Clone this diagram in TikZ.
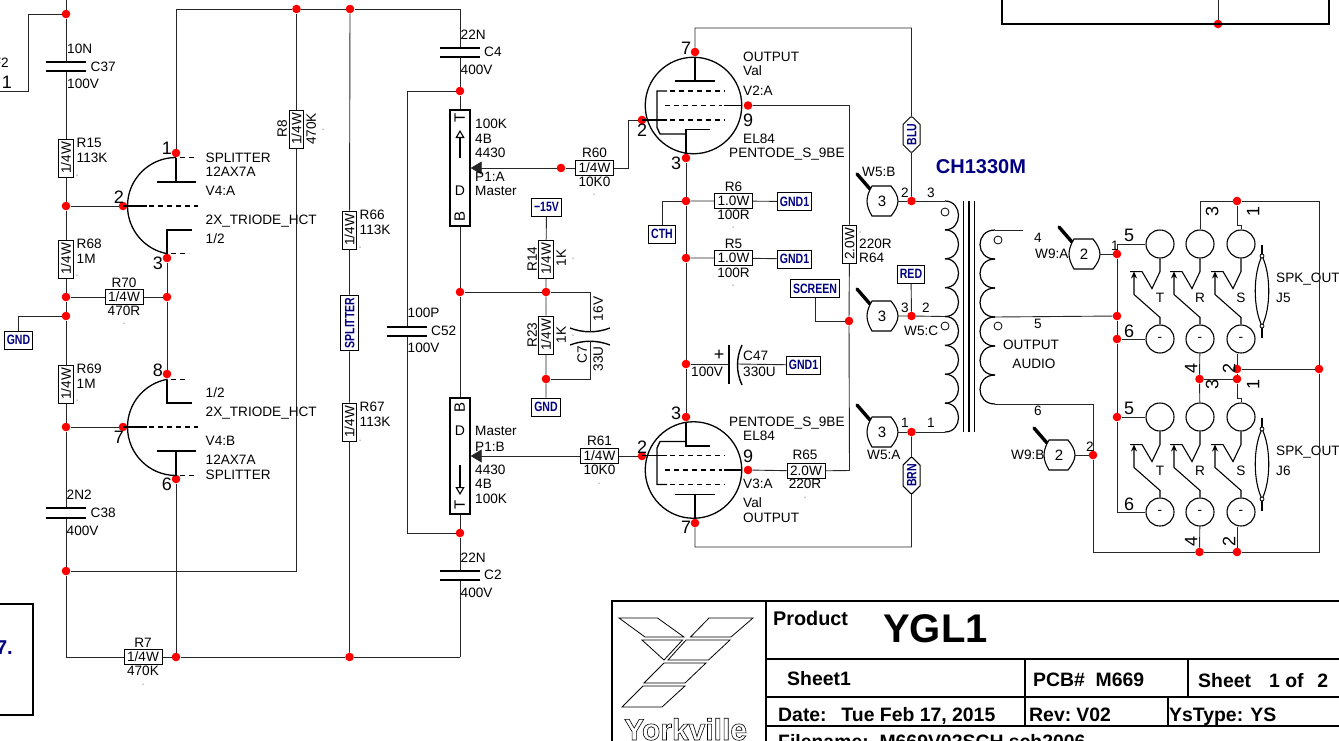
\documentclass[tikz,border=0pt]{standalone}
\usepackage{fontspec}
\setmainfont{Liberation Sans}
\newfontfamily\tagfont{Liberation Sans}[FakeStretch=0.78]
\usetikzlibrary{arrows.meta,shapes.misc}
\definecolor{tagblue}{RGB}{0,0,128}
\tikzset{
  wire/.style={line width=0.9pt,black!85},
  dot/.style={circle,fill=red,inner sep=0,minimum size=8.6pt},
  lbl/.style={font=\fontsize{13.6}{14}\selectfont,inner sep=0,anchor=west,text height=9.7pt,text depth=0pt},
  lblc/.style={lbl,anchor=center},
  lblr/.style={lbl,anchor=center,rotate=90},
  pinnum/.style={font=\fontsize{18}{18}\selectfont,inner sep=0,text height=12.9pt,text depth=0pt},
  pinrot/.style={pinnum,rotate=90},
  res/.style={draw,line width=1pt,fill=white,lbl,anchor=center,minimum width=38pt,minimum height=14.5pt},
  plate/.style={fill=black,inner sep=0,minimum width=40pt,minimum height=1.6pt},
  tagbox/.style={draw,line width=1pt,fill=white,text=tagblue,inner xsep=2.5pt,inner ysep=0,minimum height=18pt,
    font=\fontsize{13.5}{14}\tagfont\bfseries,text height=9.7pt,text depth=0pt},
  tagcham/.style={tagbox,chamfered rectangle,chamfered rectangle xsep=4pt,rotate=90,minimum width=35pt,minimum height=17pt},
  tube/.style={line width=1.3pt},
  tubedash/.style={line width=1.2pt,dash pattern=on 5pt off 4pt},
  jackc/.style={circle,draw,line width=1.1pt,fill=white,minimum size=28pt,inner sep=0,font=\fontsize{13.6}{14}\selectfont},
  plug/.style={rectangle,minimum width=32pt,minimum height=30pt,inner sep=0,font=\fontsize{15}{15}\selectfont},
  titletxt/.style={inner sep=0,anchor=west,font=\fontsize{19.4}{20}\selectfont\bfseries,text height=13.9pt,text depth=0pt},
}
\begin{document}
\begin{tikzpicture}[x=1pt,y=-1pt]
  \useasboundingbox (0,0) rectangle (1339,740);
  \clip (0,0) rectangle (1339,740);

  % junctions
  \foreach \n/\x/\y in {ja/66/14,jb/66/206,jc/66/297,jd/66/316,je/66/427,jf/66/571,
    jg/296.5/9,jh/350/9,v4a1/176/153,v4a2/123/206,v4a3/167/258,jk/167/297,
    v4b8/167/374,v4b7/123/427,v4b6/176/479,jl/176/657,jm/349.5/657,
    j91/460/91,j292/460/292,j533/460/533,jw60/561/168,jy/546/292,jz/546/379,
    v2p7/695/52,v2p9/748/105.5,v2p2/642/120,v2p3/686/158,
    v3p3/686/417,v3p2/642/456,v3p9/748/470,v3p7/695/523,
    j201/686/201,j258/686/258,j364/686/364,j321/849/321,
    jw5b/911.5/201,jw5c/911.5/316,jw5a/911.5/432,
    jw9a/1117/254,j316/1117/316,j339/1117/339,j417/1117/417,jw9b/1093/455,
    js1/1237/201,js5/1319/369,jm1/1199.5/379,jm2/1237/379,jm3/1237/369,
    jb1/1199.5/552,jb2/1237/552,jtr/1218/24}
    \node[dot] (\n) at (\x,\y) {};

  % resistors
  \foreach \n/\x/\y/\t in {r70/124/297/{1/4W},r7/143/657/{1/4W},r60/594.5/168/{1/4W},r61/599.5/456/{1/4W},
    r6/733.5/201/1.0W,r5/733.5/258/1.0W,r65/806/471/2.0W}
    \node[res] (\n) at (\x,\y) {\t};
  \foreach \n/\x/\y/\t in {r15/66/158/{1/4W},r68/66/259/{1/4W},r69/66/384/{1/4W},r8/296.5/129/{1/4W},
    r66/349.5/230/{1/4W},r67/349.5/422/{1/4W},r14/546/259/{1/4W},r23/546/335/{1/4W},r64/849.5/244/2.0W}
    \node[res,rotate=90] (\n) at (\x,\y) {\t};

  % capacitor plates
  \foreach \n/\x/\ya/\yb in {c37/66/62/71,c38/66/508/518,c4/460/48/57,c2/460/571/580,c52/407/327/336}{
    \node[plate] (\n t) at (\x,\ya) {};
    \node[plate] (\n b) at (\x,\yb) {};
  }
  \coordinate (c7t) at (590,332);
  \coordinate (c7b) at (590,341);
  \draw[line width=1.4pt] (570,328) .. controls (583,333) and (597,333) .. (610,328);
  \draw[line width=1.4pt] (570,345) .. controls (583,340) and (597,340) .. (610,345);
  \coordinate (c47a) at (729,364);
  \coordinate (c47b) at (738,364);
  \draw[line width=1.5pt] (729,345) -- (729,384);
  \draw[line width=1.4pt] (742,345) .. controls (736,358) and (736,372) .. (742,385);

  % tags
  \node[tagbox] (gndl) at (18.5,340) {GND};
  \node[tagbox] (gnd2) at (546,407) {GND};
  \node[tagbox] (tag15) at (546.5,207) {−15V};
  \node[tagbox] (cth) at (662,234) {CTH};
  \node[tagbox] (gnd1a) at (794.5,201.5) {GND1};
  \node[tagbox] (gnd1b) at (794.5,259) {GND1};
  \node[tagbox] (gnd1c) at (803.5,365) {GND1};
  \node[tagbox] (screen) at (815,288.5) {SCREEN};
  \node[tagbox] (red) at (911,274) {RED};
  \node[tagbox,rotate=90] (split) at (349.5,323) {SPLITTER};
  \node[tagcham] (blu) at (911.5,134.5) {BLU};
  \node[tagcham] (brn) at (911.5,475.5) {BRN};

  % triodes
  \foreach \y/\s in {206/1,427/-1}{
    \draw[tube] (176,\y-48.5*\s) arc[start angle=90*\s,delta angle=170*\s,radius=48.5pt];
    \draw[tube] (176,\y-48.5*\s) -- (176,\y-24*\s);
    \draw[tube] (157,\y-24*\s) -- (196,\y-24*\s);
    \draw[tubedash] (180,\y-48.5*\s) -- (198,\y-48.5*\s);
    \draw[tube] (123,\y) -- (147,\y);
    \draw[tubedash] (149,\y) -- (198,\y);
    \draw[tube] (167,\y+47.5*\s) -- (167,\y+24*\s) -- (192,\y+24*\s);
    \draw[tubedash] (171,\y+47.5*\s) -- (189,\y+47.5*\s);
  }

  % pentodes
  \foreach \n/\y/\s in {v2/105.5/1,v3/470/-1}{
    \node[circle,draw,line width=1.3pt,minimum size=96.5pt,inner sep=0] (\n) at (693.5,\y) {};
    \draw[tube] (695,\y-48*\s) -- (695,\y-24.5*\s);
    \draw[tube] (675,\y-24.5*\s) -- (715,\y-24.5*\s);
    \draw[tube] (667,\y-14.5*\s) -- (657,\y-14.5*\s) -- (657,\y+22*\s) -- (660,\y+28.5*\s) -- (686,\y+28.5*\s);
    \draw[tubedash] (670,\y-14.5*\s) -- (725,\y-14.5*\s);
    \draw[tubedash] (665,\y) -- (722,\y);
    \draw[tube] (724,\y) -- (742,\y);
    \draw[tube] (642,\y+14.5*\s) -- (667,\y+14.5*\s);
    \draw[tubedash] (670,\y+14.5*\s) -- (725,\y+14.5*\s);
    \draw[tube] (686,\y+48*\s) -- (686,\y+24*\s) -- (710,\y+24*\s);
  }

  % pots
  \node[draw,line width=1.4pt,fill=white,minimum width=20pt,minimum height=116pt,inner sep=0] (potA) at (460,168) {};
  \node[draw,line width=1.4pt,fill=white,minimum width=20pt,minimum height=116pt,inner sep=0] (potB) at (460,456) {};
  \draw[line width=1.1pt,-{Triangle[open,length=8pt,width=9pt]}] (460,158) -- (460,130);
  \draw[line width=1.1pt,-{Triangle[open,length=8pt,width=9pt]}] (460,465) -- (460,495);
  \node[lblr,font=\fontsize{15}{15}\selectfont] (potAt) at (460,118) {T};
  \node[lblc,font=\fontsize{14}{14}\selectfont] (potAd) at (460,191) {D};
  \node[lblr,font=\fontsize{15}{15}\selectfont] (potAb) at (460,216) {B};
  \node[lblr,font=\fontsize{15}{15}\selectfont] (potBb) at (460,407) {B};
  \node[lblc,font=\fontsize{14}{14}\selectfont] (potBd) at (460,431) {D};
  \node[lblr,font=\fontsize{15}{15}\selectfont] (potBt) at (460,505) {T};

  % plugs
  \foreach \n/\x/\y/\t in {w5b/882/201/3,w5c/882/316/3,w5a/882/432/3,w9a/1084/254/2,w9b/1059/455/2}{
    \draw[line width=3.4pt,line cap=round] (\x-25,\y-27) -- (\x-12,\y-12);
    \draw[line width=1.1pt,fill=white] (\x-10,\y-15) -- (\x+9,\y-15)
      .. controls (\x+13,\y-10) and (\x+16,\y-5) .. (\x+16,\y)
      .. controls (\x+16,\y+5) and (\x+13,\y+10) .. (\x+9,\y+15)
      -- (\x-10,\y+15)
      .. controls (\x-13,\y+10) and (\x-15,\y+5) .. (\x-15,\y)
      .. controls (\x-15,\y-5) and (\x-13,\y-10) .. (\x-10,\y-15) -- cycle;
    \node[plug] (\n) at (\x,\y) {\t};
  }

  % transformer
  \coordinate (prit) at (945,201);
  \coordinate (prim) at (945,316.5);
  \coordinate (prib) at (945,432);
  \coordinate (sect) at (995,230);
  \coordinate (secm) at (995,317);
  \coordinate (secb) at (995,404);
  \foreach \i in {0,...,7}
    \draw[line width=1.2pt] (945,201+28.875*\i) .. controls (963,201+28.875*\i) and (963,229.875+28.875*\i) .. (945,229.875+28.875*\i);
  \foreach \i in {0,...,5}
    \draw[line width=1.2pt] (995,230+29*\i) .. controls (975,230+29*\i) and (975,259+29*\i) .. (995,259+29*\i);
  \foreach \x in {963.5,969,974.5}
    \draw[line width=1.2pt] (\x,201) -- (\x,432);
  \foreach \x/\y in {945/212,945/326,998/240,998/326}
    \draw[line width=0.8pt] (\x,\y) circle[radius=4pt];

  % jacks
  \foreach \J/\Y in {5/244,6/417}{
    \foreach \s/\X in {T/1160,R/1200,S/1241}{
      \node[jackc] (top\J\s) at (\X,\Y) {};
      \node[jackc] (bot\J\s) at (\X,\Y+95) {-};
      \draw[line width=1.1pt] (top\J\s.south) -- ++(0,13) -- ++(-8,17) -- ++(-10,-17) -- ++(-12,0);
      \draw[line width=1.1pt,-{Stealth[length=7pt,width=6pt]}] (bot\J\s.north) -- ++(0,-7) -- ++(-26,-23) -- ++(0,-23);
      \node[lblc] (sw\J\s) at (\X,\Y+54) {\s};
    }
    \draw[line width=1.2pt] (1262,\Y+1) -- (1262,\Y+12);
    \draw[line width=1.2pt] (1262,\Y+82) -- (1262,\Y+94);
    \draw[line width=1.1pt] (1262,\Y+12) .. controls (1253,\Y+30) and (1253,\Y+64) .. (1262,\Y+82)
      .. controls (1271,\Y+64) and (1271,\Y+30) .. (1262,\Y+12);
    \draw[line width=0.8pt,fill=white] (1262,\Y+12) circle[radius=2pt];
    \draw[line width=0.8pt,fill=white] (1262,\Y+82) circle[radius=2pt];
    \node[lbl] (spk\J) at (1276,\Y+34) {SPK\_OUT};
    \node[lbl] (jk\J) at (1276,\Y+54) {J\J};
    \node[pinnum] (p5\J) at (1129,\Y-9) {5};
    \node[pinnum] (p6\J) at (1129,\Y+87) {6};
    \node[pinrot] (p4\J) at (1191,\Y+124) {4};
    \node[pinrot] (p2\J) at (1229,\Y+124) {2};
    \node[pinrot] (p3\J) at (1212,\Y-33) {3};
    \node[pinrot] (p1\J) at (1253,\Y-33) {1};
  }

  % free corners of the wiring
  \coordinate (top66) at (66,0);
  \coordinate (kf2) at (28,14);
  \coordinate (f2end) at (0,91);
  \coordinate (kplate) at (176,9);
  \coordinate (kc4) at (460,9);
  \coordinate (k66) at (66,657);
  \coordinate (kc2) at (460,657);
  \coordinate (kc52t) at (407,91);
  \coordinate (kc52b) at (407,533);
  \coordinate (kr60) at (628,168);
  \coordinate (kc7t) at (590,292);
  \coordinate (kc7b) at (590,379);
  \coordinate (kv2) at (911.5,28);
  \coordinate (kv3) at (911.5,547);
  \coordinate (ks9a) at (849.5,105.5);
  \coordinate (ks9b) at (849.5,470.5);
  \coordinate (sec4) at (1023,230);
  \coordinate (kj5) at (1117,244);
  \coordinate (kj6) at (1117,512);
  \coordinate (kcs) at (1237,225);
  \coordinate (kcs2) at (1237,398);
  \coordinate (ktr) at (1319,201);
  \coordinate (kbr) at (1319,552);
  \coordinate (kbl) at (1093,552);
  \coordinate (ksec) at (1093,404);
  \coordinate (tropen) at (1218,0);

  \begin{scope}[wire]
    \draw (top66) -- (ja) -- (c37t);
    \draw (ja) -- (kf2) |- (f2end);
    \draw (c37b) -- (r15) -- (jb) -- (r68) -- (jc) -- (jd) -- (r69) -- (je) -- (c38t);
    \draw (c38b) -- (jf) -- (k66) -- (r7) -- (jl) -- (jm) -- (kc2);
    \draw (jb) -- (v4a2);
    \draw (je) -- (v4b7);
    \draw (jc) -- (r70) -- (jk);
    \draw (jd) -| (gndl);
    \draw (v4a3) -- (jk) -- (v4b8);
    \draw (v4b6) -- (jl);
    \draw (v4a1) -- (kplate) -- (jg) -- (jh) -- (kc4) -- (c4t);
    \draw (jg) -- (r8);
    \draw (r8) |- (jf);
    \draw (jh) -- (r66) -- (split) -- (r67) -- (jm);
    \draw (c4b) -- (j91) -- (potA);
    \draw (potA) -- (j292) -- (potB);
    \draw (potB) -- (j533) -- (c2t);
    \draw (c2b) -- (kc2);
    \draw (j91) -- (kc52t) -- (c52t);
    \draw (c52b) -- (kc52b) -- (j533);
    \draw (j292) -- (jy) -- (kc7t) -- (c7t);
    \draw (c7b) -- (kc7b) -- (jz);
    \draw (tag15) -- (r14) -- (jy) -- (r23) -- (jz) -- (gnd2);
    \draw (jw60) -- (r60) -- (kr60) |- (v2p2);
    \draw (r61) -- (v3p2);
    \draw[-{Triangle[length=11pt,width=13pt]}] (jw60) -- (potA.east);
    \draw[-{Triangle[length=11pt,width=13pt]}] (r61) -- (potB.east);
    \draw (v2p3) -- (j201) -- (j258) -- (j364) -- (v3p3);
    \draw (j201) -- (r6) -- (gnd1a);
    \draw (j258) -- (r5) -- (gnd1b);
    \draw (j201) -| (cth);
    \draw (j364) -- (c47a);
    \draw (c47b) -- (gnd1c);
    \draw (v2p7) |- (kv2) -- (blu) -- (jw5b);
    \draw (v3p7) |- (kv3) -- (brn) -- (jw5a);
    \draw (v2p9) -- (ks9a) -- (r64) -- (j321) -- (ks9b) -- (r65) -- (v3p9);
    \draw (screen) |- (j321);
    \draw (red) -- (jw5c);
    \draw (w5b) -- (jw5b) -- (prit);
    \draw (w5c) -- (jw5c) -- (prim);
    \draw (w5a) -- (jw5a) -- (prib);
    \draw (w9a) -- (jw9a);
    \draw (w9b) -- (jw9b);
    \draw (sect) -- (sec4);
    \draw (secm) -- (j316);
    \draw (top5T) -- (kj5) -- (jw9a) -- (j316) -- (j339) -- (j417) -- (kj6) -- (bot6T);
    \draw (j339) -- (bot5T);
    \draw (j417) -- (top6T);
    \draw (js1) -| (top5R);
    \draw (top5S) |- (kcs) -- (js1);
    \draw (js1) -- (ktr) -- (js5) -- (kbr) -- (jb2) -- (jb1) -- (kbl) -- (jw9b) -- (ksec) -- (secb);
    \draw (bot5R) -- (jm1) -- (top6R);
    \draw (jm3) -- (jm3 |- bot5S.south);
    \draw (jm3) -- (jm2) -- (jm1);
    \draw (jm3) -- (js5);
    \draw (top6S) |- (kcs2) -- (jm2);
    \draw (jb1) -- (bot6R);
    \draw (jb2) -- (jb2 |- bot6S.south);
    \draw (tropen) -- (jtr);
  \end{scope}

  % pin numbers
  \foreach \x/\y/\t [count=\i] in {167/148/1,119/197/2,158/263/3,158/370/8,119/437/7,167/484/6,
    686/48/7,748/120/9,642/130/2,676/163/3,676/413/3,642/447/2,748/456/9,686/527/7,7/82/1}
    \node[pinnum] (pin\i) at (\x,\y) {\t};

  % left aligned texts
  \foreach \x/\y/\t [count=\i] in {67/49/10N,90.5/67/C37,67/84/100V,76.5/143/R15,76.5/158/113K,
    76.5/244/R68,76.5/259/1M,76.5/369/R69,76.5/384/1M,66.5/495/2N2,90.5/513/C38,66.5/531/400V,
    205.5/158/SPLITTER,205.5/172/12AX7A,205.5/191/V4:A,205.5/220/2X\_TRIODE\_HCT,205.5/239/{1/2},
    205.5/393/{1/2},205.5/412/2X\_TRIODE\_HCT,205.5/441/V4:B,205.5/460/12AX7A,205.5/475/SPLITTER,
    359.5/215/R66,359.5/230/113K,359.5/407/R67,359.5/422/113K,
    460.5/35/22N,484/52/C4,460.5/70/400V,460.5/558/22N,484/575/C2,460.5/593/400V,
    407.5/313/100P,431/331/C52,407.5/348/100V,
    475/124/100K,475/139/4B,475/153/4430,475/177/P1:A,475/191/Master,
    475/431/Master,475/447/P1:B,475/470/4430,475/484/4B,475/499/100K,
    743/57/OUTPUT,743/71/Val,743/91/V2:A,743/139/EL84,729/153/PENTODE\_S\_9BE,
    729/422/PENTODE\_S\_9BE,743/436/EL84,743/484/V3:A,743/503/Val,743/518/OUTPUT,
    691/372/100V,743/356/C47,743/372/330U,859/244/220R,859/258/R64,
    862/172/W5:B,904/331/W5:C,867/455/W5:A,1035/254/W9:A,1011/455/W9:B}
    \node[lbl] (txt\i) at (\x,\y) {\t};

  % centred texts
  \foreach \x/\y/\t [count=\i] in {124/283/R70,124/311/470R,143/643/R7,143/671/470K,
    594.5/153/R60,594.5/182/10K0,599.5/441/R61,599.5/470/10K0,
    733.5/187/R6,733.5/215/100R,733.5/244/R5,733.5/273/100R,805/455/R65,805/484/220R,
    931/193/3,926/308/2,931/423/1,905/193/2,905/308/3,905/423/1,
    1038/238/4,1038/324/5,1038/411/6,1031/345/OUTPUT,1034/364/AUDIO,1115/246/1,1090/447/2}
    \node[lblc] (ctr\i) at (\x,\y) {\t};

  % rotated texts
  \foreach \x/\y/\t [count=\i] in {282/129/R8,311/129/470K,532/259/R14,561/258/1K,
    532/335/R23,561/335/1K,598/309/16V,582/355/C7,598/359/33U}
    \node[lblr] (rot\i) at (\x,\y) {\t};

  % specks beside the parts
  \foreach \x/\y in {77/175,77/275,77/400,124/323,323/129,360/247,360/440,143/684,
    594/194,599/483,573/258,573/335,733/227,733/285,805/497,860/232}
    \fill (\x,\y) circle[radius=0.5pt];

  \node[lbl,anchor=east] (f2txt) at (9,63) {F2};
  \node[font=\fontsize{20}{20}\selectfont\bfseries,text=tagblue] (chk) at (981,167) {CH1330M};
  \node[font=\fontsize{18}{18}\selectfont,inner sep=0] (plus) at (719,355) {+};

  % boxes at the edge of the sheet
  \draw[line width=1.3pt] (-5,604) -- (33,604) -- (33,715) -- (-5,715);
  \node[inner sep=0,anchor=east,font=\fontsize{20}{20}\selectfont\bfseries,text=tagblue] (boxtxt) at (13,648) {7.};
  \draw[line width=1.1pt] (1002,0) -- (1002,24) -- (1329,24) -- (1329,0);

  % title block
  \draw[line width=1.4pt] (612,745) -- (612,601) -- (1345,601);
  \draw[line width=1.4pt] (766,601) -- (766,745);
  \draw[line width=1.4pt] (766,659) -- (1345,659);
  \draw[line width=1.4pt] (766,697) -- (1345,697);
  \draw[line width=1.4pt] (766,726) -- (1345,726);
  \draw[line width=1.4pt] (1025,659) -- (1025,726);
  \draw[line width=1.4pt] (1188,659) -- (1188,697);
  \draw[line width=1.4pt] (1168,697) -- (1168,726);
  \draw[line width=0.8pt] (619,618) -- (657.5,618) -- (684,637) -- (645,637) -- cycle;
  \draw[line width=0.8pt] (709,618) -- (753,618) -- (731,637) -- (690.5,637) -- cycle;
  \draw[line width=0.8pt] (642,640) -- (682.5,640) -- (664,660) -- cycle;
  \draw[line width=0.8pt] (686,640) -- (730,640) -- (708.5,660) -- (668,660) -- cycle;
  \draw[line width=0.8pt] (664,663) -- (706,663) -- (685,683) -- (644,683) -- cycle;
  \draw[line width=0.8pt] (643,686) -- (685,686) -- (662,707) -- (622,707) -- cycle;
  \node[inner sep=0,anchor=base west,font=\fontsize{30}{30}\selectfont\bfseries] (yk) at (624,740)
    {\special{pdf:literal direct 1 Tr 0.6 w}Yorkville\special{pdf:literal direct 0 Tr}};
  \node[titletxt,font=\fontsize{19.8}{20}\selectfont\bfseries] (prod) at (773,619) {Product};
  \node[inner sep=0,anchor=west,font=\fontsize{40}{40}\selectfont\bfseries] (ygl) at (883,629) {YGL1};
  \node[titletxt] (sh1) at (787,679) {Sheet1};
  \node[titletxt] (pcb) at (1033,680) {PCB\#\ \ M669};
  \node[titletxt] (shn) at (1198,681) {Sheet\ \ \ \hspace{2pt}1 of\ \ \hspace{3pt}2};
  \node[titletxt] (date) at (778,715) {Date:\ \ \hspace{4pt}Tue Feb 17, 2015};
  \node[titletxt] (rev) at (1029,715) {Rev:\hspace{-2pt} V02};
  \node[titletxt] (yst) at (1169,715) {YsType: YS};
  \node[titletxt,anchor=base west] (fname) at (778,748) {Filename:\ \ M669V02SCH.sch2006};
\end{tikzpicture}
\end{document}
